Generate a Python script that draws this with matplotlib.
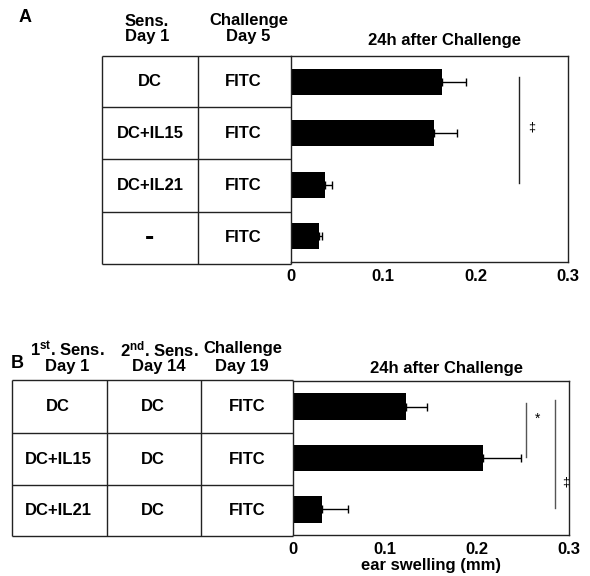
import matplotlib
matplotlib.use("Agg")
import matplotlib.pyplot as plt

plt.rcParams['font.family'] = ['Liberation Sans', 'DejaVu Sans']
plt.rcParams['font.weight'] = 'bold'
plt.rcParams['mathtext.fontset'] = 'custom'
plt.rcParams['mathtext.rm'] = 'Liberation Sans:bold'
plt.rcParams['mathtext.bf'] = 'Liberation Sans:bold'
plt.rcParams['mathtext.it'] = 'Liberation Sans:bold'

# ---------------- data ----------------
# Panel A
a_sens_day1 = ["DC", "DC+IL15", "DC+IL21", "-"]
a_challenge_day5 = ["FITC", "FITC", "FITC", "FITC"]
a_values = [0.163, 0.155, 0.037, 0.030]
a_errors = [0.027, 0.025, 0.007, 0.004]

# Panel B
b_sens1_day1 = ["DC", "DC+IL15", "DC+IL21"]
b_sens2_day14 = ["DC", "DC", "DC"]
b_challenge_day19 = ["FITC", "FITC", "FITC"]
b_values = [0.123, 0.206, 0.032]
b_errors = [0.023, 0.042, 0.028]

x_ticks = [0, 0.1, 0.2, 0.3]
x_ticklabels = ["0", "0.1", "0.2", "0.3"]

FS = 12
LC = "#222222"

fig = plt.figure(figsize=(5.9, 5.76), dpi=100)
W, H = 590, 576

def fax(l, t, r, b):
    return fig.add_axes([l / W, 1 - b / H, (r - l) / W, (b - t) / H])

# overlay in pixel coordinates for tables / headers
ov = fig.add_axes([0, 0, 1, 1])
ov.set_xlim(0, W)
ov.set_ylim(H, 0)
ov.axis('off')

def hline(y, x0, x1):
    ov.plot([x0, x1], [y, y], color=LC, lw=1.0, solid_capstyle='butt')

def vline(x, y0, y1):
    ov.plot([x, x], [y0, y1], color=LC, lw=1.0, solid_capstyle='butt')

def txt(x, y, s, size=FS, **kw):
    ov.text(x, y, s, ha='center', va='center', fontsize=size, fontweight='bold', **kw)

# ---------------- Panel A ----------------
axA = fax(291, 56, 568, 262)
ya = list(range(len(a_values)))
axA.barh(ya, a_values, height=0.5, color='black',
         xerr=[[0] * len(a_errors), a_errors], error_kw=dict(ecolor='black', elinewidth=1, capsize=3, capthick=1))
axA.set_xlim(0, 0.3)
axA.set_ylim(3.5, -0.5)
axA.set_yticks([])
axA.set_xticks(x_ticks)
axA.set_xticklabels(x_ticklabels)
axA.tick_params(axis='x', length=0, pad=5, labelsize=FS)
for sp in axA.spines.values():
    sp.set_color(LC)
    sp.set_linewidth(1.0)
axA.plot([0.247, 0.247], [-0.09, 1.97], color=LC, lw=1.0)
axA.text(0.261, 0.88, "‡", ha='center', va='center', fontsize=9, fontweight='normal')

# table A
ta_left, ta_c1, ta_right = 102, 198, 291
ta_rows = [56, 107, 159, 212, 264]
for y in ta_rows:
    hline(y, ta_left, ta_right)
vline(ta_left, 56, 264)
vline(ta_c1, 56, 264)
vline(ta_right, 262, 264)
for i in range(len(a_sens_day1)):
    yc = (ta_rows[i] + ta_rows[i + 1]) / 2
    if a_sens_day1[i] == "-":
        txt(150, yc, a_sens_day1[i], size=20)
    else:
        txt(150, yc, a_sens_day1[i])
    txt(243, yc, a_challenge_day5[i])
txt(25, 18, "A", size=13)
txt(147, 21, "Sens.")
txt(147, 37, "Day 1")
txt(249, 21, "Challenge")
txt(248, 37, "Day 5")
txt(444, 40, "24h after Challenge")

# ---------------- Panel B ----------------
axB = fax(293, 381, 569, 535)
yb = list(range(len(b_values)))
axB.barh(yb, b_values, height=0.52, color='black',
         xerr=[[0] * len(b_errors), b_errors], error_kw=dict(ecolor='black', elinewidth=1, capsize=3, capthick=1))
axB.set_xlim(0, 0.3)
axB.set_ylim(2.5, -0.5)
axB.set_yticks([])
axB.set_xticks(x_ticks)
axB.set_xticklabels(x_ticklabels)
axB.tick_params(axis='x', length=0, pad=5, labelsize=FS)
for sp in axB.spines.values():
    sp.set_color(LC)
    sp.set_linewidth(1.0)
axB.set_xlabel("ear swelling (mm)", fontsize=FS, fontweight='bold', labelpad=1)
axB.plot([0.253, 0.253], [-0.07, 0.98], color='#555555', lw=1.0)
axB.text(0.266, 0.24, "*", ha='center', va='center', fontsize=10, fontweight='normal')
axB.plot([0.285, 0.285], [-0.13, 1.97], color='#555555', lw=1.0)
axB.text(0.296, 1.47, "‡", ha='center', va='center', fontsize=9, fontweight='normal')

# table B
tb_left, tb_c1, tb_c2, tb_right = 12, 107, 201, 293
tb_rows = [380, 433, 485, 536]
for y in tb_rows:
    hline(y, tb_left, tb_right)
vline(tb_left, 380, 536)
vline(tb_c1, 380, 536)
vline(tb_c2, 380, 536)
for i in range(len(b_sens1_day1)):
    yc = (tb_rows[i] + tb_rows[i + 1]) / 2
    txt(58, yc, b_sens1_day1[i])
    txt(153, yc, b_sens2_day14[i])
    txt(247, yc, b_challenge_day19[i])
txt(17, 364, "B", size=13)
txt(67, 349, r"1$^{\mathrm{st}}$. Sens.")
txt(67, 366, "Day 1")
txt(159, 349, r"2$^{\mathrm{nd}}$. Sens.")
txt(159, 366, "Day 14")
txt(243, 349, "Challenge")
txt(242, 366, "Day 19")
txt(446, 368, "24h after Challenge")

fig.savefig("out.png", dpi=100)
